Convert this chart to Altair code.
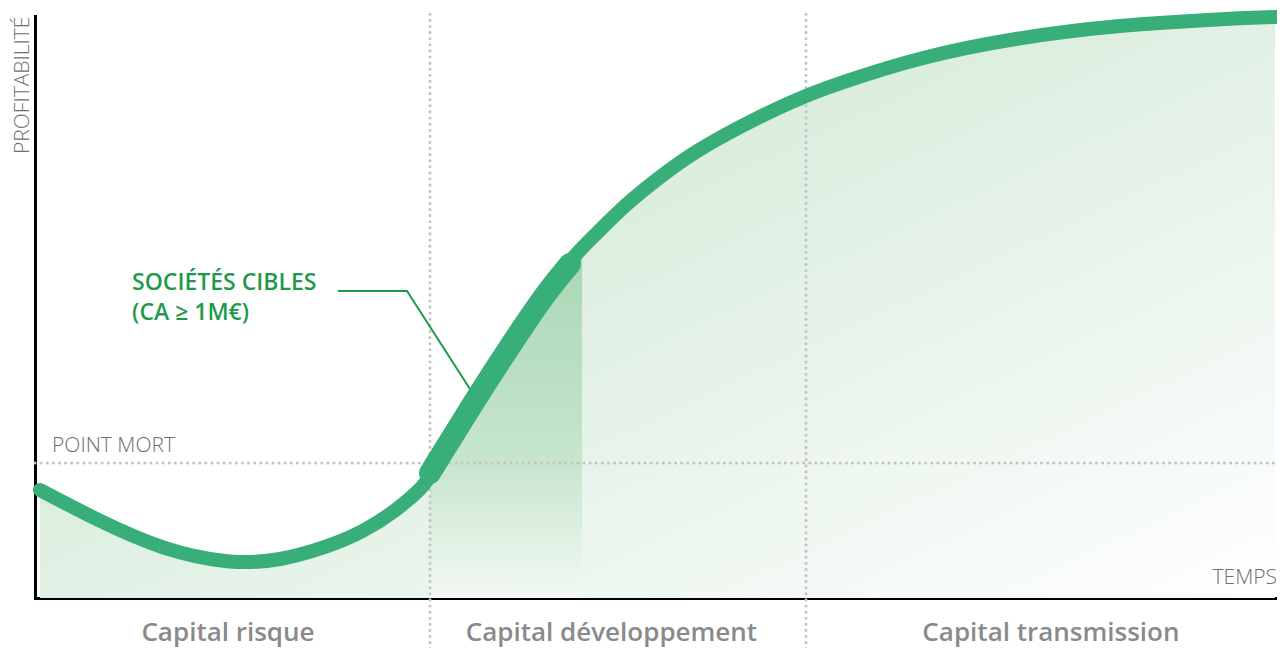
import altair as alt
import pandas as pd

# ---- data ----
curve_t = [0.40, 4.98, 10.28, 15.66, 19.68, 23.69, 26.35, 29.08, 31.16, 31.73, 35.34, 38.47, 41.20, 42.97,
           44.82, 47.55, 50.20, 52.85, 58.23, 62.01, 64.66, 71.08, 79.12, 87.15, 95.18, 99.60]
curve_v = [18.56, 13.40, 8.25, 5.84, 6.36, 8.93, 11.34, 15.12, 19.07, 20.79, 34.02, 44.33, 52.92, 58.08,
           62.03, 67.87, 72.34, 76.63, 82.82, 86.43, 88.49, 92.96, 96.39, 98.45, 99.48, 99.83]

target_t = [31.73, 35.34, 38.47, 41.20, 42.97]
target_v = [21.48, 34.02, 44.33, 52.92, 57.39]

band_t = [31.73, 35.34, 38.47, 41.20, 42.97, 43.94]
band_v = [21.48, 34.02, 44.33, 52.92, 58.08, 59.79]

leader_t = [24.34, 29.88, 35.30]
leader_v = [52.75, 52.75, 34.70]

phase_bounds = [31.73, 61.93]
phase_labels = ["Capital risque", "Capital développement", "Capital transmission"]
phase_centers = [15.5, 46.3, 81.6]

break_even = 23.2

curve = pd.DataFrame({"t": curve_t, "v": curve_v})
target = pd.DataFrame({"t": target_t, "v": target_v})
band = pd.DataFrame({"t": band_t, "v": band_v})
leader = pd.DataFrame({"t": leader_t, "v": leader_v, "o": list(range(len(leader_t)))})
bounds = pd.DataFrame({"t": phase_bounds, "v": [100.3] * 2, "v2": [-9.5] * 2})
phases = pd.DataFrame({"t": phase_centers, "v": [-7.39] * 3, "label": phase_labels})
hline = pd.DataFrame({"t": [0], "t2": [99.76], "v": [break_even]})

FONT = "Open Sans"
GREEN = "#38ae79"
INTERP = "basis"

xs = alt.Scale(domain=[0, 99.76], nice=False, zero=False)
ys = alt.Scale(domain=[0, 100], nice=False, zero=False)
X = alt.X("t:Q", scale=xs, title=None)
Y = alt.Y("v:Q", scale=ys, title=None)

main_area = alt.Chart(curve).mark_area(
    interpolate=INTERP,
    color=alt.Gradient(
        gradient="linear",
        stops=[alt.GradientStop(color="#c3e3cb", offset=0),
               alt.GradientStop(color="#deefe2", offset=0.45),
               alt.GradientStop(color="#ffffff", offset=1)],
        x1=0, y1=0, x2=1, y2=1),
).encode(x=X, y=Y)

band_area = alt.Chart(band).mark_area(
    interpolate=INTERP,
    color=alt.Gradient(
        gradient="linear",
        stops=[alt.GradientStop(color="#a9d7b5", offset=0),
               alt.GradientStop(color="#c6e5cd", offset=0.6),
               alt.GradientStop(color="#f3f9f4", offset=1)],
        x1=0, y1=0, x2=0, y2=1),
).encode(x=X, y=Y)

vrules = alt.Chart(bounds).mark_rule(
    color="#c4c4c4", strokeWidth=3, strokeCap="round", strokeDash=[0.1, 6]
).encode(x=X, y=Y, y2="v2:Q")

hrule = alt.Chart(hline).mark_rule(
    color="#c4c4c4", strokeWidth=3, strokeCap="round", strokeDash=[0.1, 6]
).encode(x=X, x2="t2:Q", y=Y)

leader_line = alt.Chart(leader).mark_line(color="#1f9a4b", strokeWidth=2).encode(
    x=X, y=Y, order="o:Q")

curve_line = alt.Chart(curve).mark_line(
    interpolate=INTERP, color=GREEN, strokeWidth=14, strokeCap="round"
).encode(x=X, y=Y)

target_line = alt.Chart(target).mark_line(
    interpolate=INTERP, color=GREEN, strokeWidth=22, strokeCap="round"
).encode(x=X, y=Y)

ann = pd.DataFrame({"t": [7.8, 7.8], "v": [54.2, 49.0], "label": ["SOCIÉTÉS CIBLES", "(CA ≥ 1M€)"]})
ann_text = alt.Chart(ann).mark_text(
    align="left", baseline="middle", font=FONT, fontSize=23, fontWeight=600, color="#1f9a4b"
).encode(x=X, y=Y, text="label:N")

gray = pd.DataFrame({"t": [1.37], "v": [26.1], "label": ["POINT MORT"]})
pm_text = alt.Chart(gray).mark_text(
    align="left", baseline="middle", font=FONT, fontSize=21, fontWeight=300, color="#707070"
).encode(x=X, y=Y, text="label:N")

temps = pd.DataFrame({"t": [99.76], "v": [3.4], "label": ["TEMPS"]})
temps_text = alt.Chart(temps).mark_text(
    align="right", baseline="middle", font=FONT, fontSize=21, fontWeight=300, color="#707070"
).encode(x=X, y=Y, text="label:N")

prof = pd.DataFrame({"t": [-0.48], "v": [88.1], "label": ["PROFITABILITÉ"]})
prof_text = alt.Chart(prof).mark_text(
    align="center", baseline="alphabetic", angle=270, font=FONT, fontSize=21, fontWeight=300, color="#707070"
).encode(x=X, y=Y, text="label:N")

phase_text = alt.Chart(phases).mark_text(
    align="center", baseline="alphabetic", font=FONT, fontSize=26, fontWeight=600, color="#8a8a8a"
).encode(x=X, y=Y, text="label:N")

axes = alt.Chart(curve).mark_point(opacity=0).encode(
    x=alt.X("t:Q", scale=xs, title=None,
            axis=alt.Axis(domainColor="#000000", domainWidth=3, ticks=False, labels=False, grid=False)),
    y=alt.Y("v:Q", scale=ys, title=None,
            axis=alt.Axis(domainColor="#000000", domainWidth=3, ticks=False, labels=False, grid=False)),
)

chart = alt.layer(
    main_area, band_area, vrules, hrule, leader_line, curve_line, target_line,
    ann_text, pm_text, temps_text, prof_text, phase_text, axes
).properties(
    width=1242, height=582,
    autosize=alt.AutoSizeParams(type="none"),
    padding={"left": 27, "top": 8, "right": 0, "bottom": 50},
).configure_view(stroke=None).configure_axis(domainCap="square")

chart.save("out.html", embed_options={"renderer": "svg", "actions": False})
